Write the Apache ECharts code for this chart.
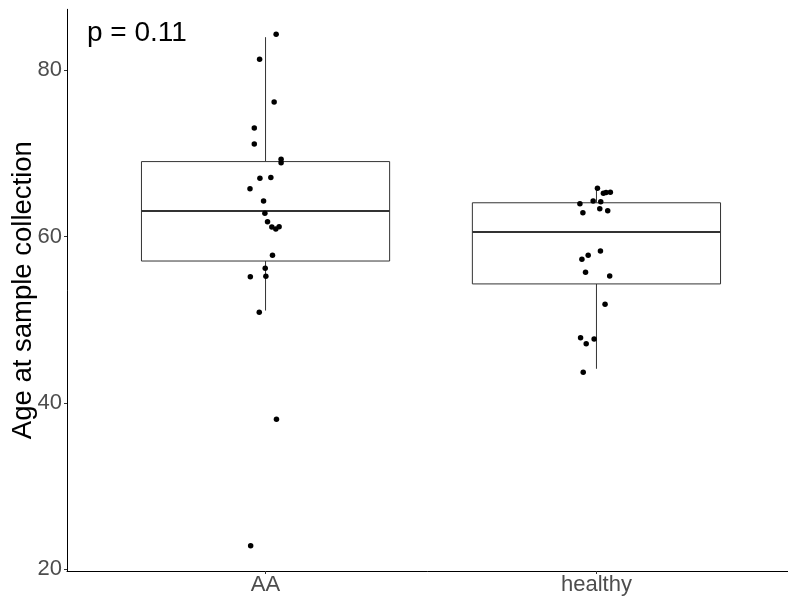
<!DOCTYPE html>
<html>
<head>
<meta charset="utf-8">
<script src="https://cdn.jsdelivr.net/npm/echarts@6/dist/echarts.min.js"></script>
<style>
html,body{margin:0;padding:0;background:#fff;}
#chart{width:788px;height:604px;}
</style>
</head>
<body>
<div id="chart"></div>
<script>
// Categories and tick labels
var categories = ['AA', 'healthy'];
var yTicks = [20, 40, 60, 80];

// Box statistics (per category)
var boxLow    = [51.1, 44.1];
var boxQ1     = [57.05, 54.3];
var boxMedian = [63.05, 60.55];
var boxQ3     = [69.0, 64.05];
var boxHigh   = [83.95, 65.8];

// Jittered points: horizontal jitter offsets (category units) and ages
var aaJitter = [0.032, -0.018, 0.026, -0.034, -0.034, 0.047, 0.047, 0.016, -0.017, -0.047, -0.006, -0.002, 0.006, 0.019, 0.031, 0.041, 0.021, -0.001, 0.001, -0.046, -0.019, 0.033, -0.045];
var aaAge    = [84.3, 81.3, 76.17, 73.04, 71.12, 69.28, 68.87, 67.1, 67.0, 65.75, 64.27, 62.79, 61.78, 61.14, 60.9, 61.18, 57.74, 56.18, 55.22, 55.17, 50.89, 38.03, 22.84];
var healthyJitter = [0.003, 0.021, 0.029, 0.042, -0.050, -0.010, 0.013, -0.041, 0.010, 0.034, 0.012, -0.025, -0.044, -0.033, 0.040, 0.026, -0.048, -0.007, -0.031, -0.040];
var healthyAge    = [65.79, 65.19, 65.27, 65.31, 63.94, 64.27, 64.18, 62.86, 63.34, 63.1, 58.26, 57.74, 57.26, 55.70, 55.25, 51.85, 47.84, 47.68, 47.12, 43.68];

var pLabel = 'p = 0.11';
var yTitle = 'Age at sample collection';

var boxData = categories.map(function (c, i) {
  return [i + 1, boxLow[i], boxQ1[i], boxMedian[i], boxQ3[i], boxHigh[i]];
});
var pointData = [];
aaAge.forEach(function (v, i) { pointData.push([1 + aaJitter[i], v]); });
healthyAge.forEach(function (v, i) { pointData.push([2 + healthyJitter[i], v]); });

var FONT = 'Liberation Sans, Arial, Helvetica, sans-serif';
var chart = echarts.init(document.getElementById('chart'), null, {renderer: 'canvas'});

function renderBox(params, api) {
  var x = api.value(0);
  var half = 0.375;
  var lo = api.coord([x, api.value(1)]);
  var q1 = api.coord([x, api.value(2)]);
  var md = api.coord([x, api.value(3)]);
  var q3 = api.coord([x, api.value(4)]);
  var hi = api.coord([x, api.value(5)]);
  var left = api.coord([x - half, api.value(3)])[0];
  var right = api.coord([x + half, api.value(3)])[0];
  var stroke = '#333333';
  return {
    type: 'group',
    children: [
      {type: 'line', shape: {x1: q3[0], y1: q3[1], x2: hi[0], y2: hi[1]}, style: {stroke: stroke, lineWidth: 1}},
      {type: 'line', shape: {x1: q1[0], y1: q1[1], x2: lo[0], y2: lo[1]}, style: {stroke: stroke, lineWidth: 1}},
      {type: 'rect', shape: {x: left, y: q3[1], width: right - left, height: q1[1] - q3[1]}, style: {fill: '#ffffff', stroke: stroke, lineWidth: 1}},
      {type: 'line', shape: {x1: left, y1: md[1], x2: right, y2: md[1]}, style: {stroke: stroke, lineWidth: 2}}
    ]
  };
}

var option = {
  animation: false,
  backgroundColor: '#ffffff',
  grid: {left: 67, right: -7, top: 9.3, bottom: 33, containLabel: false, outerBoundsMode: 'none'},
  xAxis: {
    type: 'value', min: 0.4, max: 2.6,
    splitLine: {show: false},
    axisLine: {show: true, onZero: false, lineStyle: {color: '#000000', width: 1}},
    axisTick: {show: true, customValues: [1, 2], length: 3, lineStyle: {color: '#333333'}},
    axisLabel: {
      customValues: [1, 2], margin: 3,
      formatter: function (v) { return categories[Math.round(v) - 1] || ''; },
      color: '#4D4D4D', fontSize: 22, fontFamily: FONT
    }
  },
  yAxis: {
    type: 'value', min: 19.8, max: 87.3,
    splitLine: {show: false},
    axisLine: {show: true, onZero: false, lineStyle: {color: '#000000', width: 1}},
    axisTick: {show: true, customValues: yTicks, length: 3, lineStyle: {color: '#333333'}},
    axisLabel: {customValues: yTicks, margin: 5, color: '#4D4D4D', fontSize: 22, fontFamily: FONT},
    name: yTitle, nameLocation: 'middle', nameRotate: 90, nameGap: 30, nameMoveOverlap: false,
    nameTextStyle: {color: '#000000', fontSize: 27.5, fontFamily: FONT}
  },
  graphic: [{
    type: 'text', left: 87, top: 19,
    style: {text: pLabel, fill: '#000000', font: '28px ' + FONT}
  }],
  series: [
    {type: 'custom', renderItem: renderBox, data: boxData, z: 2, encode: {x: 0, y: [1, 2, 3, 4, 5]}},
    {type: 'scatter', data: pointData, symbolSize: 5.5, itemStyle: {color: '#000000', opacity: 1}, z: 3}
  ]
};
chart.setOption(option);
</script>
</body>
</html>
